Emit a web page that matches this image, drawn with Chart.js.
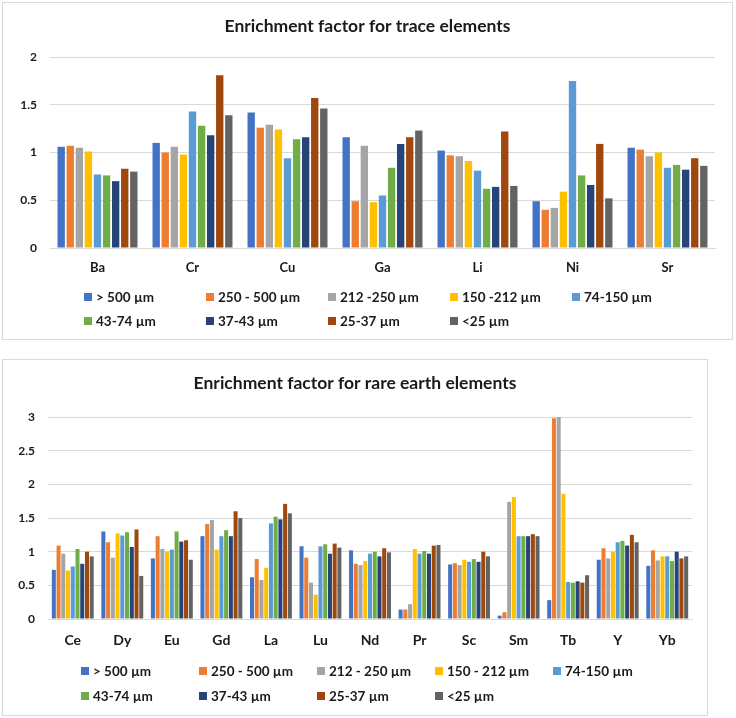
<!DOCTYPE html>
<html>
<head>
<meta charset="utf-8">
<title>Enrichment factor</title>
<script src="https://cdn.jsdelivr.net/npm/chart.js@4.4.1/dist/chart.umd.min.js"></script>
<style>
  body { margin: 0; background: #fff; width: 736px; height: 718px; position: relative; overflow: hidden; font-family: Lato, 'Liberation Sans', sans-serif; }
  .panel { position: absolute; border: 1px solid #d9d9d9; box-sizing: border-box; background: #fff; }
  #trace-panel { left: 2px; top: 2px; width: 731px; height: 338px; }
  #rare-panel { left: 2px; top: 359px; width: 706px; height: 357px; }
  .panel canvas { position: absolute; left: 0; top: 0; }
  .legend { position: absolute; display: grid; }
  #trace-legend { left: 81px; top: 282px; grid-template-columns: repeat(5, 122px); grid-auto-rows: 24px; }
  #rare-legend { left: 78px; top: 298px; grid-template-columns: repeat(5, 118px); grid-auto-rows: 25px; }
  .legend-item { display: flex; align-items: center; font-size: 13.5px; font-weight: bold; color: #1a1a1a; white-space: nowrap; }
  .legend-item .box { width: 8px; height: 8px; margin-right: 4px; flex: none; }
</style>
</head>
<body>
<div class="panel" id="trace-panel">
  <canvas id="trace-chart" width="729" height="336"></canvas>
  <div class="legend" id="trace-legend"></div>
</div>
<div class="panel" id="rare-panel">
  <canvas id="rare-chart" width="704" height="355"></canvas>
  <div class="legend" id="rare-legend"></div>
</div>
<script>
// Trace elements
const traceElements = ['Ba', 'Cr', 'Cu', 'Ga', 'Li', 'Ni', 'Sr'];
const traceSizes = ['> 500 µm', '250 - 500 µm', '212 -250 µm', '150 -212 µm', '74-150 µm', '43-74 µm', '37-43 µm', '25-37 µm', '<25 µm'];
const traceOver500 = [1.06, 1.10, 1.42, 1.16, 1.02, 0.49, 1.05];
const trace250to500 = [1.07, 1.00, 1.26, 0.49, 0.97, 0.40, 1.03];
const trace212to250 = [1.05, 1.06, 1.29, 1.07, 0.96, 0.42, 0.96];
const trace150to212 = [1.01, 0.98, 1.24, 0.48, 0.91, 0.59, 1.00];
const trace74to150 = [0.77, 1.43, 0.94, 0.55, 0.81, 1.75, 0.84];
const trace43to74 = [0.76, 1.28, 1.14, 0.84, 0.62, 0.76, 0.87];
const trace37to43 = [0.70, 1.18, 1.16, 1.09, 0.64, 0.66, 0.82];
const trace25to37 = [0.83, 1.81, 1.57, 1.16, 1.22, 1.09, 0.94];
const traceUnder25 = [0.80, 1.39, 1.46, 1.23, 0.65, 0.52, 0.86];
const traceTicks = [0, 0.5, 1, 1.5, 2];

// Rare earth elements
const rareElements = ['Ce', 'Dy', 'Eu', 'Gd', 'La', 'Lu', 'Nd', 'Pr', 'Sc', 'Sm', 'Tb', 'Y', 'Yb'];
const rareSizes = ['> 500 µm', '250 - 500 µm', '212 - 250 µm', '150 - 212 µm', '74-150 µm', '43-74 µm', '37-43 µm', '25-37 µm', '<25 µm'];
const rareOver500 = [0.73, 1.30, 0.90, 1.23, 0.62, 1.08, 1.02, 0.14, 0.81, 0.05, 0.28, 0.88, 0.79];
const rare250to500 = [1.09, 1.14, 1.23, 1.41, 0.89, 0.91, 0.82, 0.14, 0.83, 0.10, 2.98, 1.05, 1.02];
const rare212to250 = [0.97, 0.91, 1.04, 1.47, 0.58, 0.54, 0.80, 0.22, 0.80, 1.74, 3.00, 0.90, 0.87];
const rare150to212 = [0.72, 1.27, 1.00, 1.03, 0.76, 0.36, 0.86, 1.04, 0.88, 1.81, 1.86, 1.00, 0.93];
const rare74to150 = [0.78, 1.24, 1.03, 1.23, 1.42, 1.08, 0.97, 0.97, 0.85, 1.23, 0.55, 1.14, 0.93];
const rare43to74 = [1.04, 1.29, 1.30, 1.32, 1.52, 1.11, 1.00, 1.01, 0.89, 1.23, 0.54, 1.16, 0.86];
const rare37to43 = [0.82, 1.07, 1.15, 1.23, 1.48, 0.97, 0.93, 0.97, 0.85, 1.23, 0.56, 1.09, 1.00];
const rare25to37 = [1.00, 1.33, 1.17, 1.60, 1.71, 1.12, 1.05, 1.09, 1.00, 1.26, 0.54, 1.25, 0.90];
const rareUnder25 = [0.93, 0.64, 0.88, 1.50, 1.57, 1.06, 0.99, 1.10, 0.93, 1.23, 0.65, 1.14, 0.93];
const rareTicks = [0, 0.5, 1, 1.5, 2, 2.5, 3];

const seriesColors = ['#4472C4', '#ED7D31', '#A5A5A5', '#FFC000', '#5B9BD5', '#70AD47', '#264478', '#9E480E', '#636363'];
const textColor = '#1a1a1a';
const gridColor = '#d9d9d9';

Chart.defaults.font.family = 'Lato, "Liberation Sans", sans-serif';

function buildChart(canvasId, cfg) {
    const ctx = document.getElementById(canvasId)?.getContext('2d');
    if (!ctx) return null;
    return new Chart(ctx, {
        type: 'bar',
        data: {
            labels: cfg.labels,
            datasets: cfg.series.map((values, i) => ({
                label: cfg.names[i],
                data: values,
                backgroundColor: seriesColors[i],
                borderWidth: 0
            }))
        },
        options: {
            responsive: false,
            animation: false,
            datasets: {
                bar: { categoryPercentage: 0.86, barPercentage: cfg.barPct }
            },
            layout: { padding: { top: 0, left: 0, right: 0, bottom: cfg.bottomPad } },
            plugins: {
                legend: { display: false },
                tooltip: { enabled: false },
                title: {
                    display: true,
                    text: cfg.title,
                    color: textColor,
                    font: { size: 17.5, weight: 'bold' },
                    padding: { top: 12.5, bottom: cfg.titleGap }
                }
            },
            scales: {
                x: {
                    grid: { display: false, drawTicks: false },
                    border: { display: true, color: gridColor },
                    ticks: { color: textColor, padding: cfg.xPad, font: { size: cfg.xFont, weight: 'bold' } },
                    afterFit: (scale) => { scale.height = cfg.xHeight; }
                },
                y: {
                    min: 0,
                    max: cfg.ticks[cfg.ticks.length - 1],
                    grid: { color: gridColor, drawTicks: false },
                    border: { display: false },
                    afterBuildTicks: (scale) => { scale.ticks = cfg.ticks.map(v => ({ value: v })); },
                    ticks: {
                        color: textColor,
                        padding: 13,
                        font: { size: 12, weight: 'bold' },
                        callback: (value) => String(value)
                    },
                    afterFit: (scale) => { scale.width = cfg.leftWidth; }
                },
                // empty axis keeps the right margin without moving the title
                yRight: {
                    position: 'right',
                    grid: { display: false },
                    border: { display: false },
                    ticks: { display: false },
                    afterFit: (scale) => { scale.width = cfg.rightWidth; }
                }
            }
        }
    });
}

function buildLegend(containerId, names) {
    const box = document.getElementById(containerId);
    names.forEach((name, i) => {
        const item = document.createElement('div');
        item.className = 'legend-item';
        item.innerHTML = `<span class="box" style="background:${seriesColors[i]}"></span><span>${name}</span>`;
        box?.appendChild(item);
    });
}

document.addEventListener('DOMContentLoaded', () => {
    buildChart('trace-chart', {
        title: 'Enrichment factor for trace elements',
        labels: traceElements,
        names: traceSizes,
        series: [traceOver500, trace250to500, trace212to250, trace150to212, trace74to150, trace43to74, trace37to43, trace25to37, traceUnder25],
        ticks: traceTicks,
        barPct: 0.81,
        titleGap: 20.5,
        leftWidth: 47,
        rightWidth: 17,
        xPad: 12,
        xFont: 13,
        xHeight: 34,
        bottomPad: 57
    });
    buildLegend('trace-legend', traceSizes);

    buildChart('rare-chart', {
        title: 'Enrichment factor for rare earth elements',
        labels: rareElements,
        names: rareSizes,
        series: [rareOver500, rare250to500, rare212to250, rare150to212, rare74to150, rare43to74, rare37to43, rare25to37, rareUnder25],
        ticks: rareTicks,
        barPct: 0.85,
        titleGap: 23.5,
        leftWidth: 45,
        rightWidth: 15,
        xPad: 12.6,
        xFont: 14,
        xHeight: 36,
        bottomPad: 60
    });
    buildLegend('rare-legend', rareSizes);
});
</script>
</body>
</html>
